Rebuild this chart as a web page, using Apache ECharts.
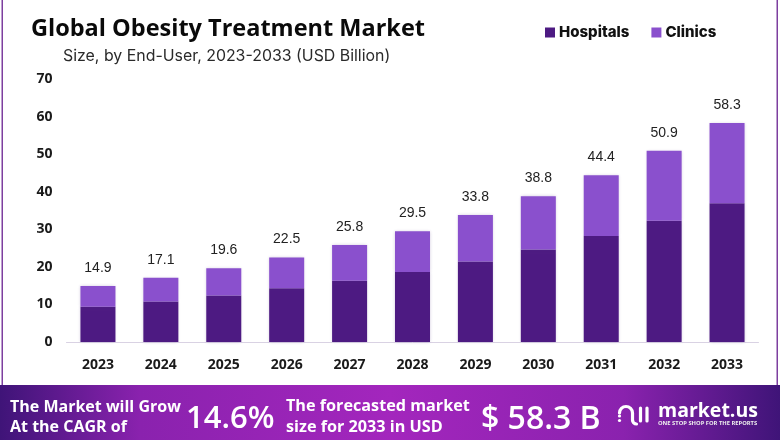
<!DOCTYPE html>
<html><head><meta charset="utf-8">
<style>html,body{margin:0;padding:0;background:#fff}#c{width:780px;height:440px}</style>
<script src="https://cdn.jsdelivr.net/npm/echarts@6/dist/echarts.min.js"></script>
</head><body><div id="c"></div>
<script>
const years=['2023','2024','2025','2026','2027','2028','2029','2030','2031','2032','2033'];
const hospitals=[9.4,10.8,12.4,14.3,16.3,18.6,21.4,24.6,28.2,32.3,36.9];
const clinics=[5.5,6.3,7.2,8.2,9.5,10.9,12.4,14.2,16.2,18.6,21.4];
const totals=['14.9','17.1','19.6','22.5','25.8','29.5','33.8','38.8','44.4','50.9','58.3'];
const yTicks={min:0,max:70,interval:10};
const chart=echarts.init(document.getElementById('c'),null,{renderer:'canvas'});
const bandText=(x,y,text,size,weight)=>({type:'text',x,y,silent:true,style:{text,fill:'#fff',font:`${weight||700} ${size}px "Open Sans", sans-serif`,textVerticalAlign:'middle'}});
const logoStroke={stroke:'#fff',lineWidth:3.2,fill:null,lineCap:'round'};
chart.setOption({
  animation:false,
  backgroundColor:'#fff',
  grid:{left:66.5,right:21.5,top:79,height:263,containLabel:false},
  legend:{top:20,left:540,itemWidth:10,itemHeight:10,itemGap:22,icon:'rect',
    textStyle:{fontFamily:'Inter',fontWeight:800,fontSize:15,color:'#111',padding:[0,0,0,-1]},
    data:['Hospitals','Clinics']},
  xAxis:{type:'category',data:years,axisTick:{show:false},
    axisLine:{lineStyle:{color:'#d9d2e3',width:1}},
    axisLabel:{margin:16,fontFamily:'"Open Sans"',fontWeight:700,fontSize:14,color:'#1a1a1a'}},
  yAxis:{type:'value',...yTicks,splitLine:{show:false},axisLine:{show:false},axisTick:{show:false},
    axisLabel:{margin:14,fontFamily:'"Open Sans"',fontWeight:700,fontSize:14,color:'#1a1a1a',
      verticalAlign:'middle',lineHeight:16,padding:[3,0,0,0]}},
  series:[
    {name:'Hospitals',type:'bar',stack:'t',data:hospitals,barWidth:35,
      itemStyle:{color:'#4d1a82',shadowColor:'rgba(70,40,120,0.25)',shadowBlur:3}},
    {name:'Clinics',type:'bar',stack:'t',data:clinics,barWidth:35,
      itemStyle:{color:'#8a50cd',shadowColor:'rgba(70,40,120,0.25)',shadowBlur:3},
      label:{show:true,position:'top',distance:11,fontFamily:'"Liberation Sans"',fontSize:14,color:'#222',
        formatter:p=>totals[p.dataIndex]}}
  ],
  graphic:[
    {type:'rect',shape:{x:1.5,y:0,width:1.5,height:386},style:{fill:'#7d3f9f'},silent:true},
    {type:'rect',shape:{x:776.5,y:0,width:1.5,height:386},style:{fill:'#7d3f9f'},silent:true},
    {type:'rect',shape:{x:0,y:385,width:780,height:55},silent:true,style:{fill:new echarts.graphic.LinearGradient(0,0,1,0,[
      {offset:0,color:'#3f1478'},{offset:0.18,color:'#8a22ae'},{offset:0.5,color:'#a326bd'},{offset:0.8,color:'#8a22ae'},{offset:1,color:'#3f1478'}])}},
    {type:'text',x:31,y:29,silent:true,style:{text:'Global Obesity Treatment Market',fill:'#0a0a0a',font:'700 23.5px "Open Sans", sans-serif',textVerticalAlign:'middle'}},
    {type:'text',x:63,y:56,silent:true,style:{text:'Size, by End-User, 2023-2033 (USD Billion)',fill:'#2a2a2a',font:'400 15.9px Inter, sans-serif',textVerticalAlign:'middle'}},
    bandText(10,407,'The Market will Grow',16),
    bandText(10,427,'At the CAGR of',16),
    bandText(186,419,'14.6%',31,600),
    bandText(286,406,'The forecasted market',16.2),
    bandText(286,427,'size for 2033 in USD',16.2),
    bandText(481,420,'$ 58.3 B',32,600),
    bandText(658,411,'market.us',19.5),
    {type:'text',x:658,y:423,silent:true,style:{text:'ONE STOP SHOP FOR THE REPORTS',fill:'#eee',font:'700 5.8px "Open Sans", sans-serif',textVerticalAlign:'middle'}},
    {type:'arc',silent:true,shape:{cx:626,cy:413,r:6.5,startAngle:Math.PI,endAngle:0},style:logoStroke},
    {type:'polyline',silent:true,shape:{points:[[632.5,413],[632.5,420]]},style:logoStroke},
    {type:'arc',silent:true,shape:{cx:636.5,cy:420,r:4,startAngle:Math.PI/2,endAngle:Math.PI},style:logoStroke},
    {type:'polyline',silent:true,shape:{points:[[640.5,408],[640.5,421]]},style:logoStroke},
    {type:'polyline',silent:true,shape:{points:[[647,408],[647,421]]},style:logoStroke},
    {type:'circle',silent:true,shape:{cx:619.5,cy:416,r:1.6},style:{fill:'#fff'}},
    {type:'circle',silent:true,shape:{cx:619.5,cy:420.5,r:1.6},style:{fill:'#fff'}}
  ]
});
</script></body></html>
